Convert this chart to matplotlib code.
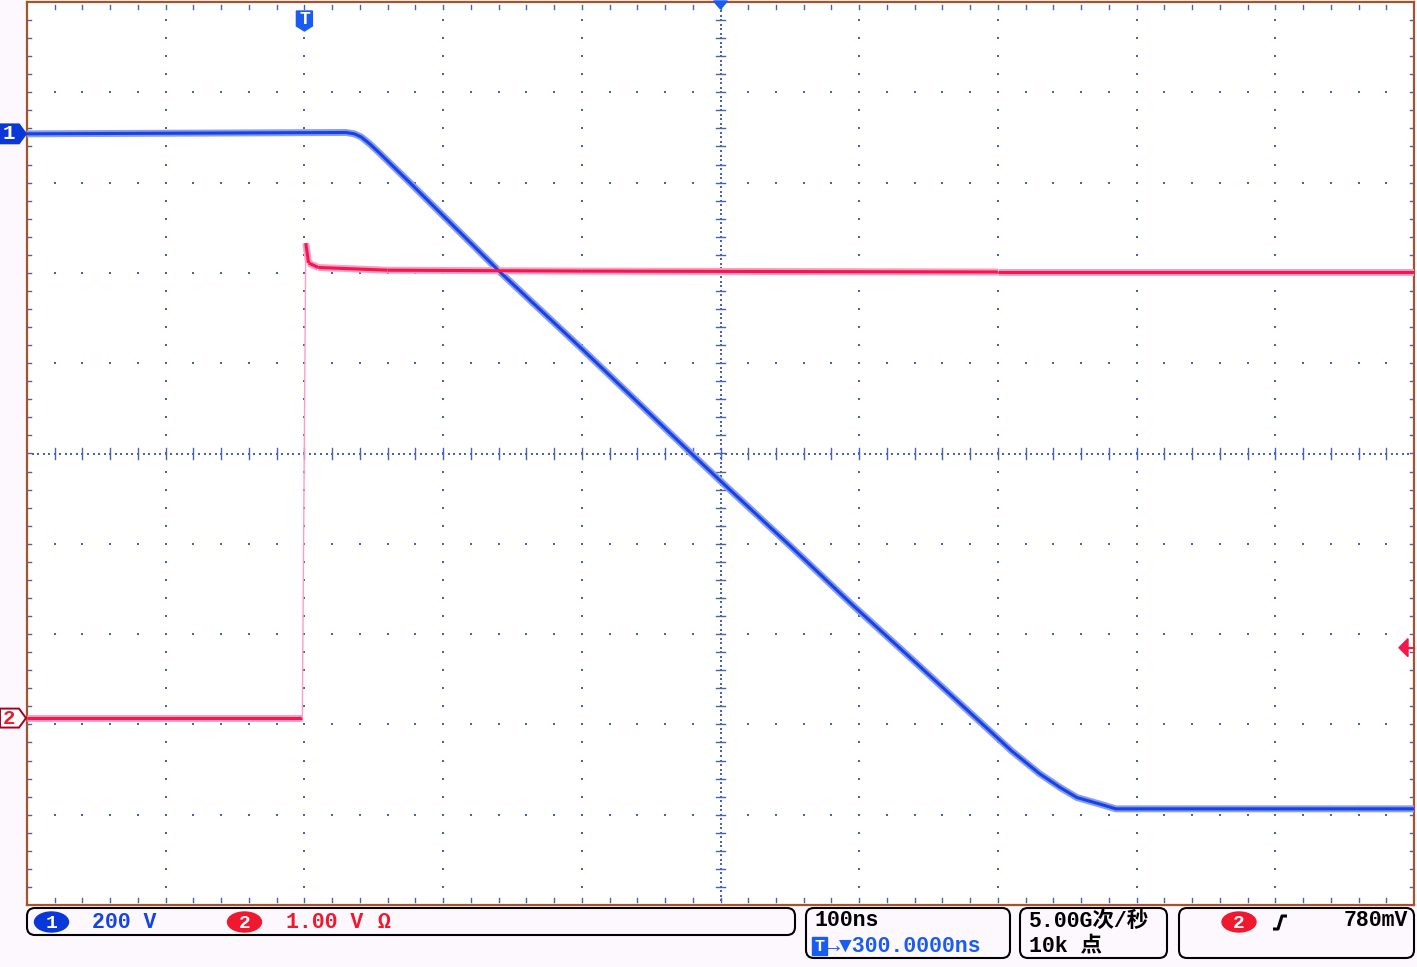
import matplotlib
matplotlib.use("Agg")
import matplotlib.pyplot as plt
import numpy as np
from matplotlib import transforms
from matplotlib.collections import LineCollection
from matplotlib.patches import Ellipse, FancyBboxPatch, Polygon, Rectangle

W, H = 1417, 967

# horizontal: 100 ns/div, trigger at 0 ns, screen centre at +300 ns
X_MIN, X_MAX = -200.0, 800.0
NS_PER_DIV = 100.0

# channel 1: 200 V/div (ns, V)
ch1_scale = 200.0
ch1_offset = 3.54
ch1_t = [-200, 30, 36, 41, 47, 54, 76, 141, 200, 247, 280, 299,
         350, 395, 441, 510, 530, 545, 557, 573, 585, 800]
ch1_v = [0, 3, 0, -7, -22, -42, -108, -306, -476, -614, -711, -766,
         -912, -1043, -1172, -1367, -1417, -1448, -1470, -1484, -1495, -1495]

# channel 2: 1.00 V/div (ns, V)
ch2_scale = 1.0
ch2_offset = -2.93
ch2_t = [-200, -1.5, 1.0, 3.0, 10, 60, 200, 500, 800]
ch2_v = [0, 0, 5.26, 5.04, 4.99, 4.96, 4.95, 4.94, 4.94]
trig_level = 0.78

ch1_label = "200 V"
ch2_label = "1.00 V"
timebase = "100ns"
trig_pos = "\u2192\u25bc300.0000ns"
rate_label = "5.00G次/秒"
rec_label = "10k 点"
trig_label = "780mV"

BLUE = "#1543e4"
BLUE_LT = "#8a9cf0"
BADGE_BLUE = "#0a38d8"
T_BLUE = "#1a5cf0"
RED = "#f3174a"
RED_LT = "#ff9cc8"
BADGE_RED = "#f0182e"
GRID = "#4a62b4"
BORDER = "#a5532a"
FONT = ["Liberation Mono", "Noto Sans CJK SC", "DejaVu Sans"]
FS = 15.5

fig = plt.figure(figsize=(W / 100, H / 100), dpi=100, facecolor="#fdf8fd")
ax = fig.add_axes([27 / W, 1 - 905 / H, (1414 - 27) / W, (905 - 2) / H])
ax.set_facecolor("white")
ax.set_xlim(X_MIN, X_MAX)
ax.set_ylim(-5, 5)
ax.set_xticks([])
ax.set_yticks([])
for sp in ax.spines.values():
    sp.set_color(BORDER)
    sp.set_linewidth(1.6)

# graticule
minor_x = np.arange(X_MIN, X_MAX + 0.1, NS_PER_DIV / 5)
minor_y = np.arange(-5, 5.01, 0.2)
major_x = [x for x in np.arange(X_MIN + 100, X_MAX, 100) if x != 300]
major_y = [y for y in range(-4, 5) if y != 0]
dot = dict(ls="none", marker="s", ms=1.5, color=GRID, mew=0)
for xm in major_x:
    ax.plot(np.full(len(minor_y) - 2, xm), minor_y[1:-1], **dot)
for ym in major_y:
    ax.plot(minor_x[1:-1], np.full(len(minor_x) - 2, ym), **dot)
cy = np.arange(-5, 5.001, 0.05)
ax.plot(np.full(len(cy), 300.0), cy, **dot)
cx = np.arange(X_MIN, X_MAX + 0.1, 4)
ax.plot(cx, np.zeros(len(cx)), **dot)
tick = dict(color=GRID, lw=1.0)
for y in minor_y[1:-1]:
    ax.plot([297, 303], [y, y], **tick)
    ax.plot([X_MIN, X_MIN + 3], [y, y], **tick)
    ax.plot([X_MAX - 3, X_MAX], [y, y], **tick)
for x in minor_x[1:-1]:
    ax.plot([x, x], [-0.06, 0.06], **tick)
    ax.plot([x, x], [4.92, 4.97], **tick)
    ax.plot([x, x], [-4.97, -4.92], **tick)

# traces
y1 = np.array(ch1_v) / ch1_scale + ch1_offset
ax.plot(ch1_t, y1, color=BLUE_LT, lw=5.0, solid_joinstyle="round", zorder=3)
ax.plot(ch1_t, y1, color=BLUE, lw=2.2, solid_joinstyle="round", zorder=4)

y2 = np.array(ch2_v) / ch2_scale + ch2_offset
pts = np.column_stack([ch2_t, y2])
segs = np.stack([pts[:-1], pts[1:]], axis=1)
steep = np.abs(np.diff(y2)) > 1.0
under = LineCollection(segs[~steep], colors=RED_LT, linewidths=5.0, zorder=3)
core = LineCollection(segs, colors=[RED_LT if s else RED for s in steep],
                      linewidths=[1.0 if s else 2.2 for s in steep], zorder=4)
ax.add_collection(under)
ax.add_collection(core)

# channel markers (x in figure px, y in data)
bl = transforms.blended_transform_factory(fig.transFigure, ax.transData)


def ch_marker(y, face, edge, text, tcolor):
    h = 0.105
    poly = [(0, y + h), (19 / W, y + h), (26 / W, y), (19 / W, y - h), (0, y - h)]
    fig.patches.append(Polygon(poly, closed=True, transform=bl, facecolor=face,
                               edgecolor=edge, lw=1.4))
    fig.text(9 / W, y, text, transform=bl, ha="center", va="center",
             color=tcolor, fontsize=15, fontweight="bold", family=FONT)


ch_marker(ch1_offset, BADGE_BLUE, BADGE_BLUE, "1", "white")
ch_marker(ch2_offset, "white", "#a8001c", "2", BADGE_RED)

# trigger level marker on the right edge
ty = ch2_offset + trig_level / ch2_scale
fig.patches.append(Polygon([(1399 / W, ty), (1408 / W, ty + 0.1), (1408 / W, ty - 0.1)],
                           closed=True, transform=bl, color=RED))
fig.lines.append(plt.Line2D([1406 / W, 1414 / W], [ty, ty], transform=bl, color=RED, lw=1.5))

# trigger time "T" and centre marker along the top
bt = transforms.blended_transform_factory(ax.transData, fig.transFigure)
hw = 8 / 138.7 * NS_PER_DIV
fig.patches.append(Polygon([(-hw, 1 - 11 / H), (hw, 1 - 11 / H), (hw, 1 - 26 / H),
                            (0, 1 - 31 / H), (-hw, 1 - 26 / H)],
                           closed=True, transform=bt, color=T_BLUE))
fig.text(0, 1 - 20 / H, "T", transform=bt, ha="center", va="center", color="white",
         fontsize=13, fontweight="bold", family=FONT)
fig.patches.append(Polygon([(295, 1 - 1 / H), (305, 1 - 1 / H), (300, 1 - 9 / H)],
                           closed=True, transform=bt, color=T_BLUE))

# status bar in pixel space
sb = fig.add_axes([0, 0, 1, 1], facecolor="none")
sb.set_xlim(0, W)
sb.set_ylim(H, 0)
sb.axis("off")
for x0, y0, x1, y1b in [(27, 908, 795, 935), (806, 908, 1010, 958),
                        (1020, 908, 1167, 958), (1179, 908, 1414, 958)]:
    sb.add_patch(FancyBboxPatch((x0, y0), x1 - x0, y1b - y0,
                                boxstyle="round,pad=0,rounding_size=8",
                                fc="none", ec="black", lw=1.5))


def badge(xc, yc, face, text):
    sb.add_patch(Ellipse((xc, yc), 34, 20, color=face))
    sb.text(xc, yc + 1, text, ha="center", va="center", color="white",
            fontsize=14, fontweight="bold", family=FONT)


def label(x, y, s, color, ha="left"):
    sb.text(x, y, s, ha=ha, va="center", color=color, fontsize=FS,
            fontweight="bold", family=FONT)


badge(51.5, 922, BADGE_BLUE, "1")
label(92, 922, ch1_label, BLUE)
badge(244.5, 922, BADGE_RED, "2")
label(286, 922, ch2_label, BADGE_RED)
label(378, 922, "\u03a9", BADGE_RED)
label(814, 921, timebase, "black")
sb.add_patch(Rectangle((812, 937), 15, 18, color=T_BLUE))
sb.text(819.5, 946.5, "T", ha="center", va="center", color="white",
        fontsize=12, fontweight="bold", family=FONT)
label(827, 946, trig_pos, T_BLUE)
label(1029, 921, rate_label, "black")
label(1029, 946, rec_label, "black")
badge(1239, 922, BADGE_RED, "2")
sb.plot([1273, 1278, 1282, 1287], [929, 929, 916, 916], color="black", lw=2.2,
        solid_capstyle="butt")
label(1408, 921, trig_label, "black", ha="right")

fig.savefig("out.png", dpi=100, facecolor=fig.get_facecolor())
